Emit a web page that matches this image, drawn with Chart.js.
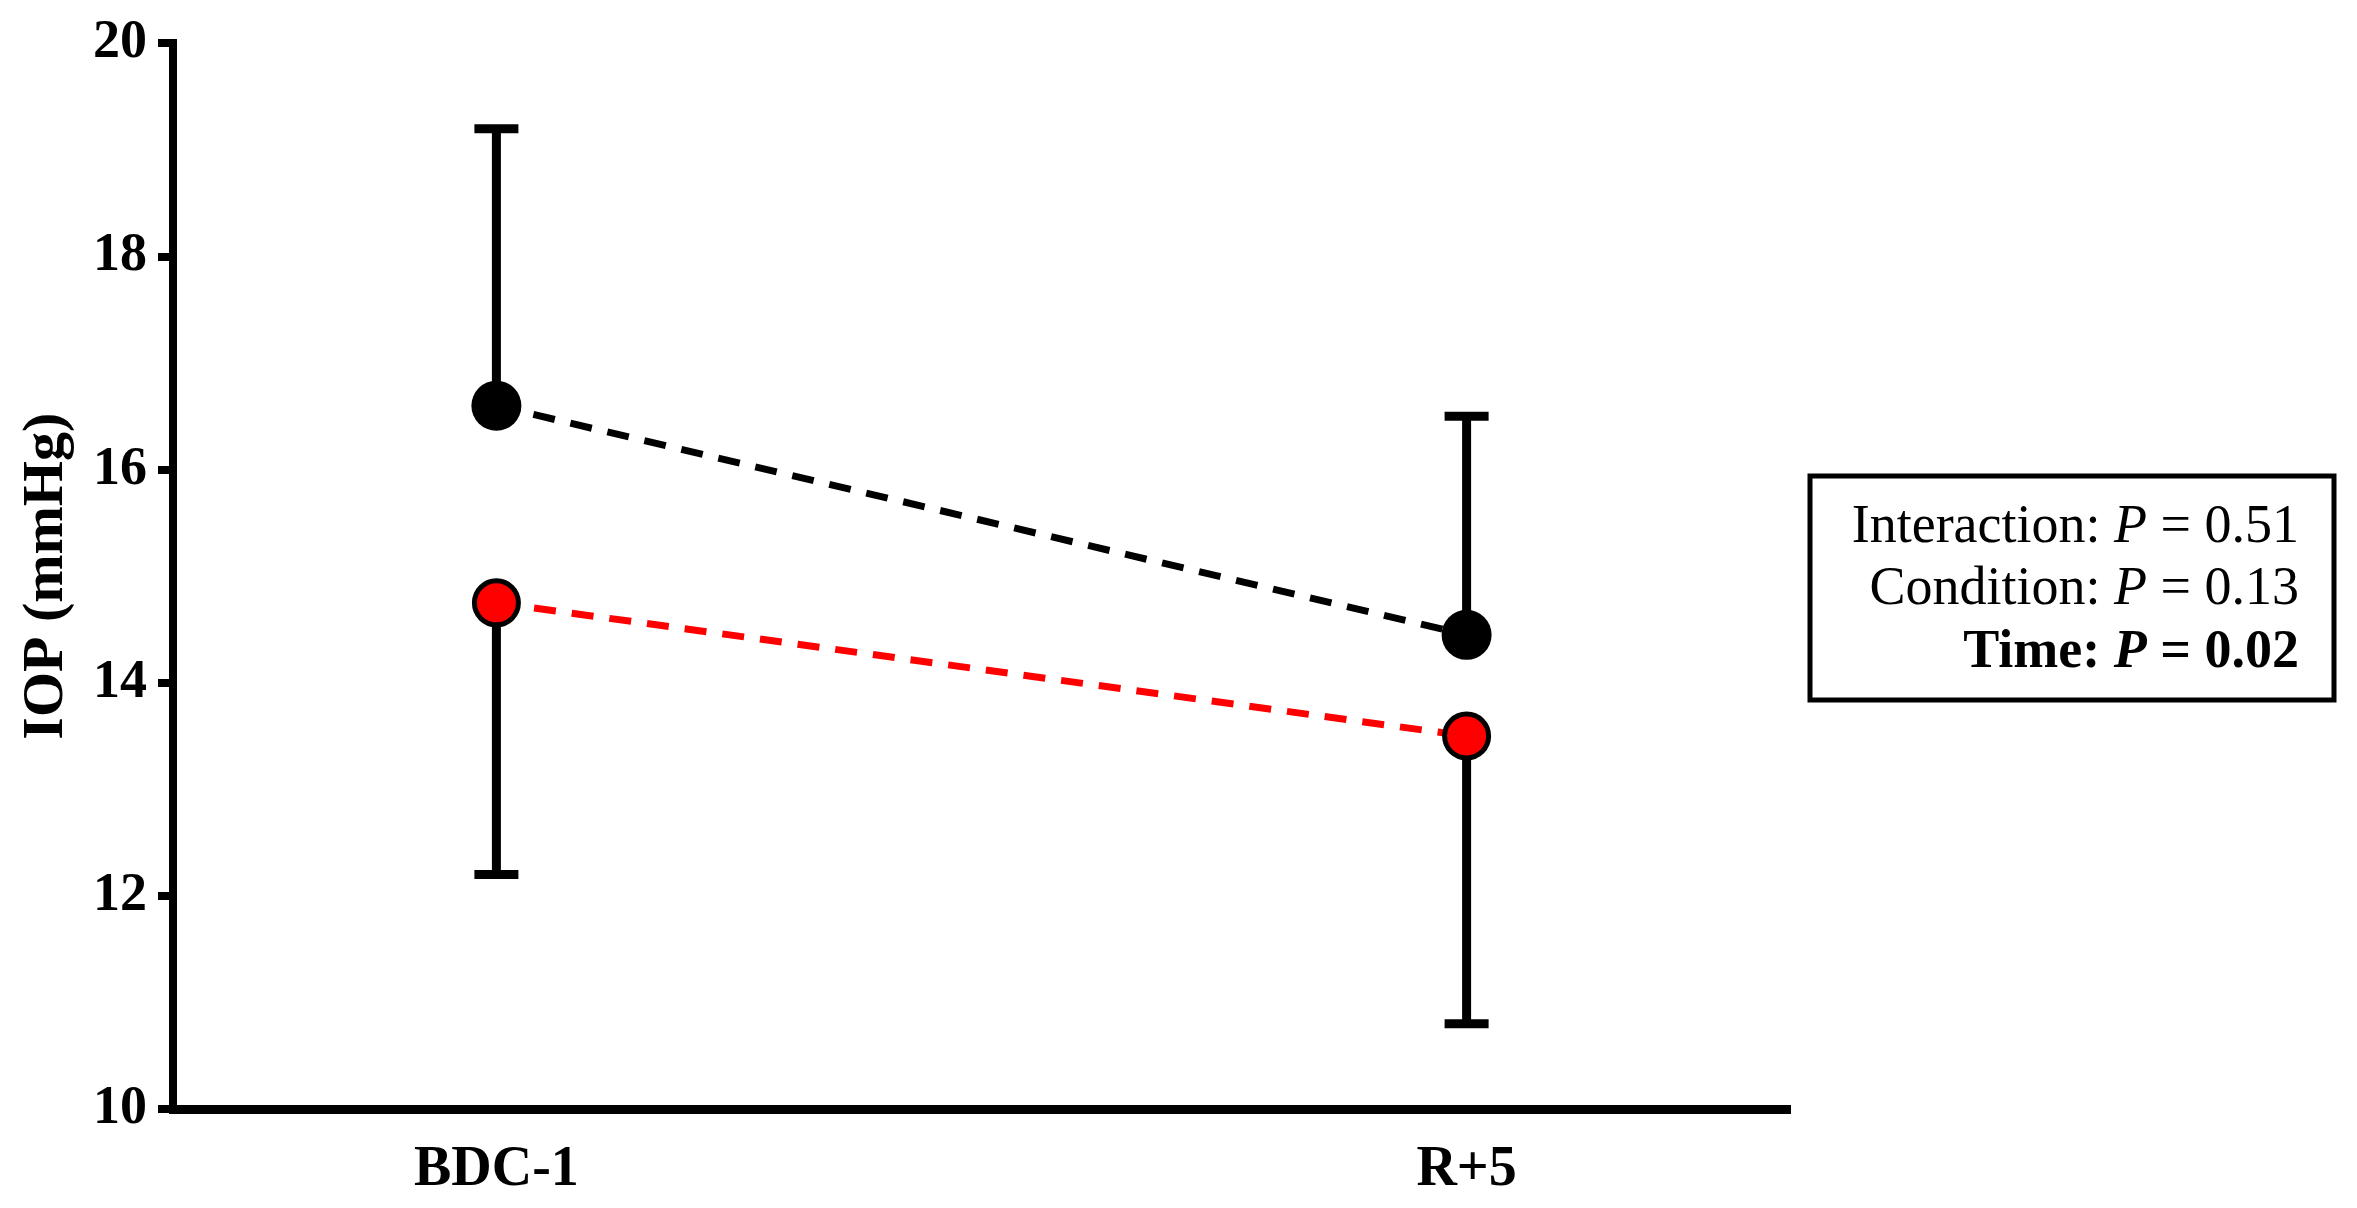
<!DOCTYPE html>
<html>
<head>
<meta charset="utf-8">
<script src="https://cdn.jsdelivr.net/npm/chart.js@4"></script>
<style>
  html, body { margin: 0; padding: 0; background: #fff; }
  #wrap { width: 2357px; height: 1208px; }
</style>
</head>
<body>
<div id="wrap"><canvas id="c" width="2357" height="1208"></canvas></div>
<script>
// ---- data ----
const categories = ['BDC-1', 'R+5'];
const categoryX = [1, 4];
const blackMean = [16.6, 14.45];
const blackUpper = [19.2, 16.5];
const redMean = [14.75, 13.5];
const redLower = [12.2, 10.8];
const yTicks = [10, 12, 14, 16, 18, 20];
const yTitle = 'IOP (mmHg)';
const statLines = [
  { label: 'Interaction: ', p: '0.51', bold: false },
  { label: 'Condition: ', p: '0.13', bold: false },
  { label: 'Time: ', p: '0.02', bold: true }
];

const FONT = "'Liberation Serif', 'Times New Roman', serif";
Chart.defaults.font.family = FONT;
Chart.defaults.color = '#000';

const toPts = (vals) => vals.map((v, i) => ({ x: categoryX[i], y: v }));

// error bars (one-sided) drawn through the scales
const errorBarPlugin = {
  id: 'errorBars',
  beforeDatasetsDraw(chart) {
    const { ctx, scales: { x, y } } = chart;
    const bars = [
      { mean: blackMean, end: blackUpper },
      { mean: redMean, end: redLower }
    ];
    ctx.save();
    ctx.strokeStyle = '#000';
    ctx.lineWidth = 9;
    ctx.lineCap = 'butt';
    const capHalf = 22;
    bars.forEach(b => {
      b.mean.forEach((m, i) => {
        const px = x.getPixelForValue(categoryX[i]);
        const y0 = y.getPixelForValue(m);
        const y1 = y.getPixelForValue(b.end[i]);
        ctx.beginPath();
        ctx.moveTo(px, y0);
        ctx.lineTo(px, y1);
        ctx.stroke();
        ctx.beginPath();
        ctx.moveTo(px - capHalf, y1);
        ctx.lineTo(px + capHalf, y1);
        ctx.stroke();
      });
    });
    ctx.restore();
  }
};

// statistics box
const statsPlugin = {
  id: 'statsBox',
  afterDraw(chart) {
    const { ctx } = chart;
    const boxX = 1810, boxY = 476, boxW = 524, boxH = 224;
    ctx.save();
    ctx.strokeStyle = '#000';
    ctx.lineWidth = 5;
    ctx.strokeRect(boxX, boxY, boxW, boxH);
    const right = 2299;
    const baselines = [542, 604, 667];
    const size = 54;
    ctx.fillStyle = '#000';
    ctx.textBaseline = 'alphabetic';
    ctx.textAlign = 'left';
    statLines.forEach((ln, i) => {
      const w = ln.bold ? 'bold ' : '';
      const segs = [
        { t: ln.label, f: `${w}${size}px ${FONT}` },
        { t: 'P', f: `italic ${w}${size}px ${FONT}` },
        { t: ' = ' + ln.p, f: `${w}${size}px ${FONT}` }
      ];
      let total = 0;
      segs.forEach(s => { ctx.font = s.f; s.w = ctx.measureText(s.t).width; total += s.w; });
      let cx = right - total;
      segs.forEach(s => { ctx.font = s.f; ctx.fillText(s.t, cx, baselines[i]); cx += s.w; });
    });
    ctx.restore();
  }
};

new Chart(document.getElementById('c'), {
  type: 'line',
  data: {
    datasets: [
      {
        label: 'Black',
        data: toPts(blackMean),
        borderColor: '#000',
        borderWidth: 7,
        borderDash: [22, 16],
        pointRadius: 25,
        pointBackgroundColor: '#000',
        pointBorderColor: '#000',
        pointBorderWidth: 0,
        fill: false,
        tension: 0
      },
      {
        label: 'Red',
        data: toPts(redMean),
        borderColor: '#ff0000',
        borderWidth: 7,
        borderDash: [22, 16],
        pointRadius: 22,
        pointBackgroundColor: '#ff0000',
        pointBorderColor: '#000',
        pointBorderWidth: 5,
        fill: false,
        tension: 0
      }
    ]
  },
  options: {
    responsive: false,
    animation: false,
    events: [],
    layout: { padding: { left: 0, right: 567, top: 37, bottom: 0 } },
    plugins: { legend: { display: false }, tooltip: { enabled: false } },
    scales: {
      x: {
        type: 'linear',
        min: 0,
        max: 5,
        afterBuildTicks: (s) => { s.ticks = categoryX.map(v => ({ value: v })); },
        afterFit: (s) => { s.height = 99; },
        grid: { display: false, drawTicks: false },
        border: { display: true, color: '#000', width: 9 },
        ticks: {
          padding: 28,
          color: '#000',
          font: { family: FONT, size: 56, weight: 'bold' },
          callback: (v) => { const i = categoryX.indexOf(v); return i >= 0 ? categories[i] : ''; },
          maxRotation: 0,
          autoSkip: false
        }
      },
      y: {
        min: 10,
        max: 20,
        afterBuildTicks: (s) => { s.ticks = yTicks.map(v => ({ value: v })); },
        afterFit: (s) => { s.width = 173; },
        grid: { drawOnChartArea: false, drawTicks: true, tickLength: 15, lineWidth: 8, color: '#000' },
        border: { display: true, color: '#000', width: 8 },
        ticks: {
          padding: 11,
          color: '#000',
          font: { family: FONT, size: 54, weight: 'bold' }
        },
        title: {
          display: true,
          text: yTitle,
          color: '#000',
          font: { family: FONT, size: 58, weight: 'bold' },
          padding: { top: 12, bottom: 0 }
        }
      }
    }
  },
  plugins: [errorBarPlugin, statsPlugin]
});
</script>
</body>
</html>
